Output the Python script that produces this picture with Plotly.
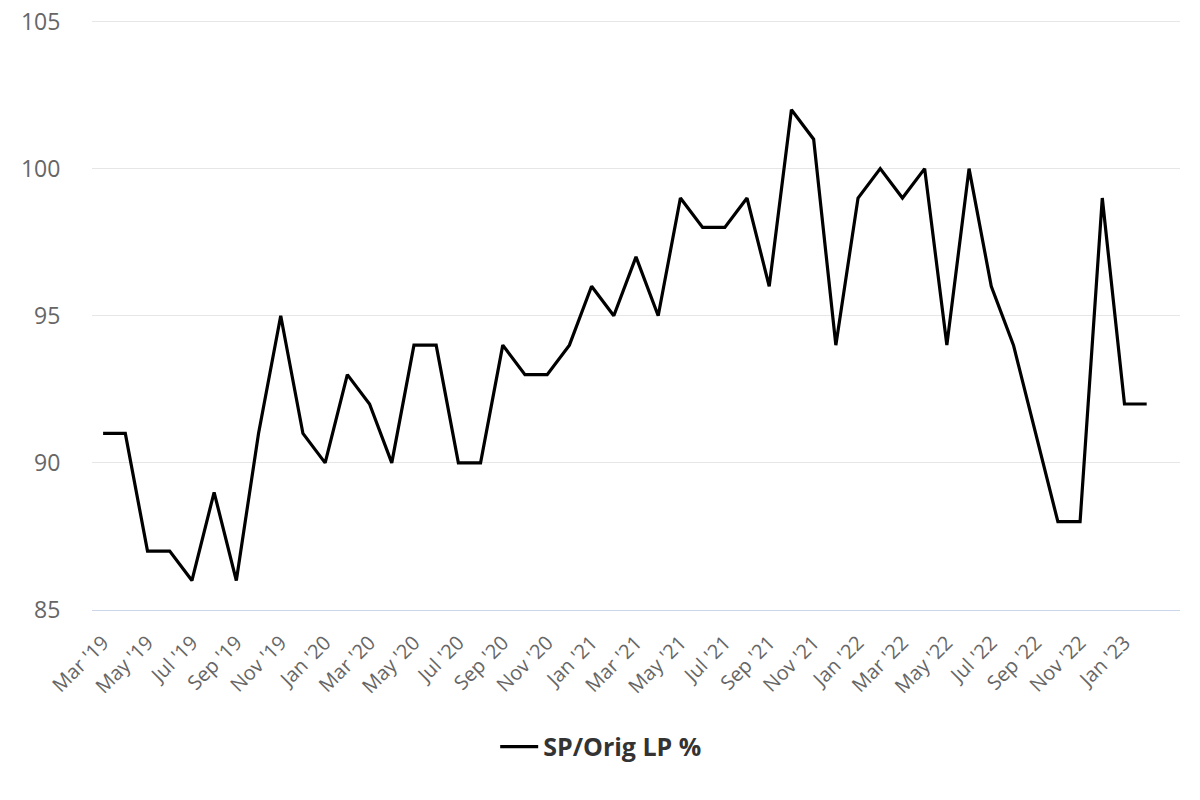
import plotly.graph_objects as go

# meses (Mar '19 .. Feb '23)
months = ["Mar '19", "Apr '19", "May '19", "Jun '19", "Jul '19", "Aug '19", "Sep '19", "Oct '19",
          "Nov '19", "Dec '19", "Jan '20", "Feb '20", "Mar '20", "Apr '20", "May '20", "Jun '20",
          "Jul '20", "Aug '20", "Sep '20", "Oct '20", "Nov '20", "Dec '20", "Jan '21", "Feb '21",
          "Mar '21", "Apr '21", "May '21", "Jun '21", "Jul '21", "Aug '21", "Sep '21", "Oct '21",
          "Nov '21", "Dec '21", "Jan '22", "Feb '22", "Mar '22", "Apr '22", "May '22", "Jun '22",
          "Jul '22", "Aug '22", "Sep '22", "Oct '22", "Nov '22", "Dec '22", "Jan '23", "Feb '23"]

sp_orig_lp = [91, 91, 87, 87, 86, 89, 86, 91,
              95, 91, 90, 93, 92, 90, 94, 94,
              90, 90, 94, 93, 93, 94, 96, 95,
              97, 95, 99, 98, 98, 99, 96, 102,
              101, 94, 99, 100, 99, 100, 94, 100,
              96, 94, 91, 88, 88, 99, 92, 92]

y_ticks = [85, 90, 95, 100, 105]

fig = go.Figure()
fig.add_trace(go.Scatter(x=months, y=sp_orig_lp, mode='lines', name='SP/Orig LP %',
                         line=dict(color='#000000', width=3.2)))

fig.update_layout(
    width=1200, height=800,
    paper_bgcolor='white', plot_bgcolor='white',
    margin=dict(l=92, r=20, t=20, b=190, autoexpand=False),
    font=dict(family='Open Sans, DejaVu Sans, sans-serif', color='#666666'),
    showlegend=True,
    legend=dict(orientation='h', x=0.468, xanchor='center', y=-0.232, yanchor='middle',
                itemwidth=38,
                font=dict(size=25, color='#333333', weight='bold')),
)
fig.update_xaxes(type='category', range=[-0.5, 48.5],
                 tickvals=months[::2], ticktext=months[::2],
                 tickangle=-45, tickfont=dict(size=20, color='#666666'),
                 showgrid=False, showline=True, linecolor='#ccd6eb', linewidth=1,
                 ticks='outside', ticklen=12, tickcolor='white', automargin=False)
fig.update_yaxes(range=[85, 105.05], tickvals=y_ticks, tickfont=dict(size=23, color='#666666'),
                 showgrid=True, gridcolor='#e6e6e6', gridwidth=1, zeroline=False,
                 ticks='outside', ticklen=26, tickcolor='white',
                 ticklabeloverflow='allow', automargin=False)

# quitar el margen del body para que la figura ocupe la ventana completa
fig.write_html("out.html", config={'displayModeBar': False},
               post_script="document.body.style.margin='0';")
